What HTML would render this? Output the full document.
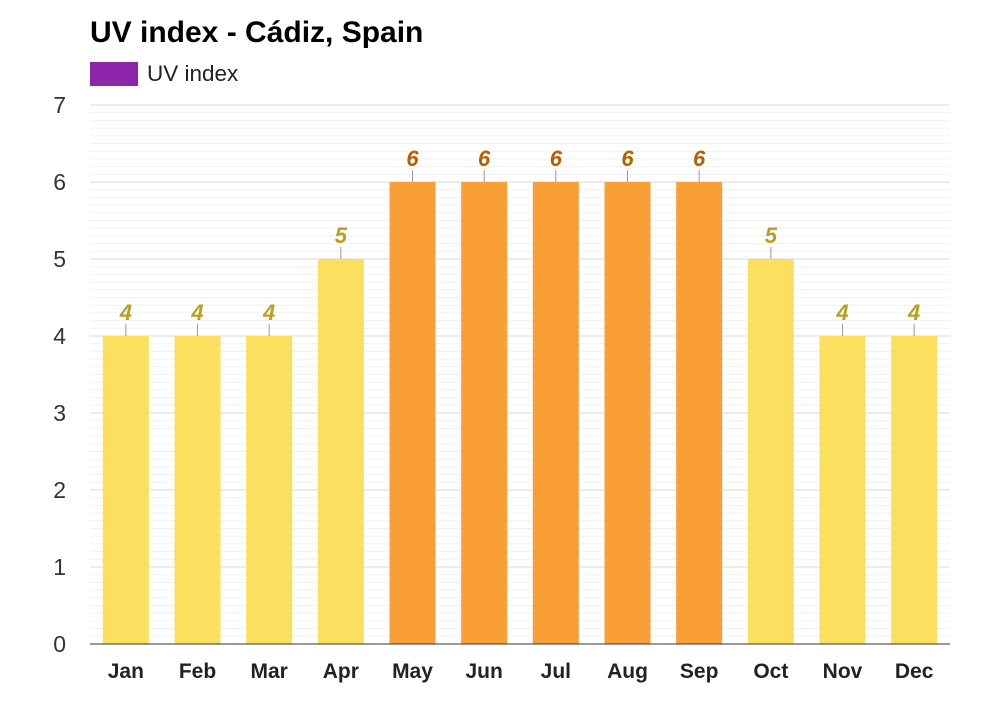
<!DOCTYPE html>
<html><head><meta charset="utf-8"><style>
body{margin:0;background:#fff;font-family:"Liberation Sans",sans-serif}
</style></head><body>
<svg id="chart" width="1000" height="700" xmlns="http://www.w3.org/2000/svg">
<text x="90" y="42" font-size="30" font-weight="bold" fill="#000">UV index - Cádiz, Spain</text>
<g>
<rect x="90" y="62" width="48" height="24" fill="#8e24aa"/>
<text x="147" y="81" font-size="22.5" fill="#222">UV index</text>
</g>
<g id="grid"></g><g id="bars"></g><g id="labels"></g>
<line x1="90" y1="644" x2="950" y2="644" stroke="#333" stroke-width="1"/>
</svg>
<script>
const months=["Jan","Feb","Mar","Apr","May","Jun","Jul","Aug","Sep","Oct","Nov","Dec"];
const uvValues=[4,4,4,5,6,6,6,6,6,5,4,4];
const yTicks=[0,1,2,3,4,5,6,7];
const NS="http://www.w3.org/2000/svg";
const x0=90,x1=950,yBase=644,yTop=105,yMax=7;
const y=v=>yBase-(v/yMax)*(yBase-yTop);
const band=(x1-x0)/months.length;
const xc=i=>x0+band*(i+0.5);
function mk(t,a,p){const e=document.createElementNS(NS,t);for(const k in a)e.setAttribute(k,a[k]);p.appendChild(e);return e;}
const grid=document.getElementById('grid'),bars=document.getElementById('bars'),labels=document.getElementById('labels');
for(let m=0;m<yMax*10;m++){
  if(m%10===0)continue;
  const l=mk('line',{x1:x0,x2:x1,y1:y(m/10),y2:y(m/10),stroke:'#f0f0f0','stroke-width':1},grid);
  
  
}
yTicks.forEach(t=>{
  const l=mk('line',{x1:x0,x2:x1,y1:y(t),y2:y(t),stroke:'#d8d8d8','stroke-width':1},grid);
  
  
  const tx=mk('text',{x:66,y:y(t)+8,'font-size':23,fill:'#333','text-anchor':'end'},grid);
  tx.textContent=t;
  
  
});
const bw=46;
uvValues.forEach((v,i)=>{
  const hi=v>=6;
  const r=mk('rect',{x:xc(i)-bw/2,y:y(v),width:bw,height:yBase-y(v),fill:hi?'#fa9f35':'#fbdf5f'},bars);
  
  
  const tk=mk('line',{x1:xc(i),x2:xc(i),y1:y(v),y2:y(v)-12,stroke:'#999','stroke-width':1},labels);
  
  
  const vl=mk('text',{x:xc(i),y:y(v)-16,'font-size':22,'font-weight':'bold','font-style':'italic',fill:hi?'#b85f00':'#b8a020','text-anchor':'middle'},labels);
  vl.textContent=v;
  
  
  const ml=mk('text',{x:xc(i),y:678,'font-size':21,'font-weight':'bold',fill:'#222','text-anchor':'middle'},labels);
  ml.textContent=months[i];
  
  
});
</script>
</body></html>
